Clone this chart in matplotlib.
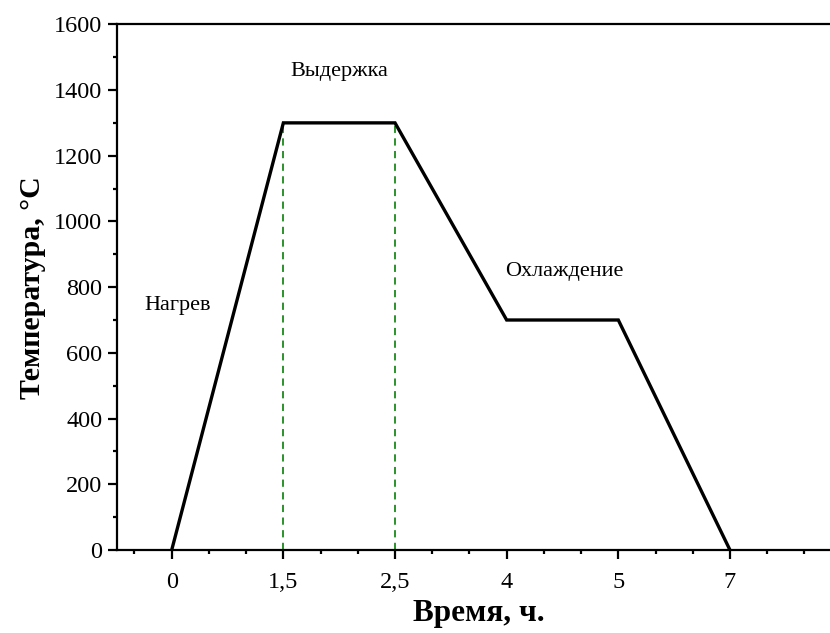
import matplotlib
matplotlib.use("Agg")
import matplotlib.pyplot as plt
from matplotlib.ticker import MultipleLocator

# Heat-treatment schedule
time_labels = ["0", "1,5", "2,5", "4", "5", "7"]
temperature = [0, 1300, 1300, 700, 700, 0]
hold_marks = [1, 2]          # positions of the holding stage boundaries
hold_temp = 1300

stage_names = ["Нагрев", "Выдержка", "Охлаждение"]
stage_x = [0.05, 1.5, 3.52]
stage_y = [745, 1457, 849]

plt.rcParams["font.family"] = ["Liberation Serif", "DejaVu Serif"]

fig = plt.figure(figsize=(8.3, 6.33), dpi=100)
ax = fig.add_axes([117 / 830, 1 - 550 / 633, 1 - 117 / 830, (550 - 24.3) / 633])

pos = list(range(len(time_labels)))
ax.plot(pos, temperature, color="black", lw=2.4, solid_joinstyle="miter", zorder=3)
for m in hold_marks:
    ax.plot([m, m], [0, hold_temp], color="#1a8a1a", lw=1.3, ls=(0, (4, 3)), zorder=2)

for name, x, y in zip(stage_names, stage_x, stage_y):
    ax.text(x, y, name, fontsize=16, ha="center", va="center")

ax.set_xlim(-0.49, 5.896)
ax.set_ylim(0, 1600)
ax.set_xticks(pos)
ax.set_xticklabels(time_labels)
ax.xaxis.set_minor_locator(MultipleLocator(1 / 3))
ax.yaxis.set_major_locator(MultipleLocator(200))
ax.yaxis.set_minor_locator(MultipleLocator(100))

for s in ["left", "bottom", "top"]:
    ax.spines[s].set_linewidth(1.6)
ax.spines["right"].set_visible(False)

ax.tick_params(which="major", direction="out", length=6.5, width=1.6, labelsize=17.5,
               top=False, right=False, pad=4)
ax.tick_params(which="minor", direction="out", length=3, width=1.6, top=False, right=False)
ax.tick_params(axis="x", pad=9)

ax.set_xlabel("Время, ч.", fontsize=22.5, fontweight="bold")
ax.xaxis.set_label_coords(0.508, -0.093)
ax.set_ylabel("Температура, °C", fontsize=21.5, fontweight="bold", labelpad=6)

fig.savefig("out.png", dpi=100)
